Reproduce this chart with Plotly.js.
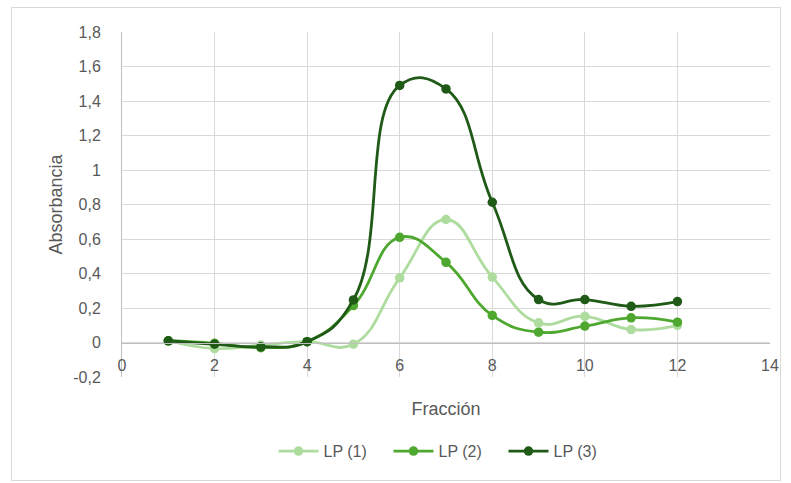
<!DOCTYPE html>
<html>
<head>
<meta charset="utf-8">
<script src="https://cdn.plot.ly/plotly-3.0.1.min.js"></script>
<style>
  html, body { margin: 0; padding: 0; background: #ffffff; }
  #frame { position: absolute; left: 11px; top: 7px; width: 768px; height: 472px; border: 1px solid #d9d9d9; }
  #chart { position: absolute; left: 0; top: 0; width: 791px; height: 483px; }
</style>
</head>
<body>
<div id="frame"></div>
<div id="chart"></div>
<script>
const fraccion = [1, 2, 3, 4, 5, 6, 7, 8, 9, 10, 11, 12];
const lp1 = [0.01, -0.035, -0.015, 0.005, -0.01, 0.375, 0.713, 0.379, 0.114, 0.152, 0.075, 0.099];
const lp2 = [0.01, -0.005, -0.03, 0.005, 0.214, 0.61, 0.465, 0.157, 0.06, 0.095, 0.143, 0.118];
const lp3 = [0.01, -0.01, -0.025, 0.005, 0.247, 1.49, 1.47, 0.813, 0.249, 0.249, 0.21, 0.237];
const seriesNames = ['LP (1)', 'LP (2)', 'LP (3)'];
const seriesColors = ['#aedc9f', '#4ea72e', '#1f5a17'];
const yTickVals = [-0.2, 0, 0.2, 0.4, 0.6, 0.8, 1, 1.2, 1.4, 1.6, 1.8];
const yTickText = ['-0,2', '0', '0,2', '0,4', '0,6', '0,8', '1', '1,2', '1,4', '1,6', '1,8'];
const xTickVals = [0, 2, 4, 6, 8, 10, 12, 14];

const allY = [lp1, lp2, lp3];
const traces = allY.map((ys, i) => ({
  x: fraccion,
  y: ys,
  name: seriesNames[i],
  type: 'scatter',
  mode: 'lines+markers',
  line: { color: seriesColors[i], width: 2.8, shape: 'spline', smoothing: 1.3 },
  marker: { color: seriesColors[i], size: 9.5 }
}));

const fontFam = '"Liberation Sans", Arial, sans-serif';
const layout = {
  width: 791,
  height: 483,
  margin: { l: 122, r: 21, t: 32, b: 106 },
  paper_bgcolor: 'rgba(0,0,0,0)',
  plot_bgcolor: 'rgba(0,0,0,0)',
  font: { family: fontFam, color: '#595959', size: 15 },
  separators: ',.',
  showlegend: true,
  legend: {
    orientation: 'h', x: 0.5, xanchor: 'center', y: -0.215, yanchor: 'middle',
    font: { size: 16, color: '#595959' }, itemwidth: 40, entrywidth: 60
  },
  xaxis: {
    range: [0, 14],
    tickvals: xTickVals,
    ticktext: xTickVals.map(String),
    showgrid: true,
    gridcolor: '#d9d9d9',
    gridwidth: 1,
    zeroline: false,
    showline: true,
    linecolor: '#bfbfbf',
    linewidth: 1,
    anchor: 'free',
    position: 0.1,
    automargin: false,
    ticks: 'outside',
    ticklen: 8,
    tickcolor: 'rgba(0,0,0,0)',
    tickfont: { size: 16, color: '#595959' },
    title: { text: 'Fracción', font: { size: 18, color: '#595959' }, standoff: 29 }
  },
  yaxis: {
    range: [-0.2, 1.8],
    tickvals: yTickVals,
    ticktext: yTickText,
    showgrid: true,
    gridcolor: '#d9d9d9',
    gridwidth: 1,
    zeroline: false,
    showline: true,
    linecolor: '#bfbfbf',
    linewidth: 1,
    automargin: false,
    ticks: 'outside',
    ticklen: 17,
    tickcolor: 'rgba(0,0,0,0)',
    tickfont: { size: 16, color: '#595959' },
    title: { text: 'Absorbancia', font: { size: 18, color: '#595959' }, standoff: 5 }
  }
};

Plotly.newPlot('chart', traces, layout, { displayModeBar: false, staticPlot: true });
</script>
</body>
</html>
